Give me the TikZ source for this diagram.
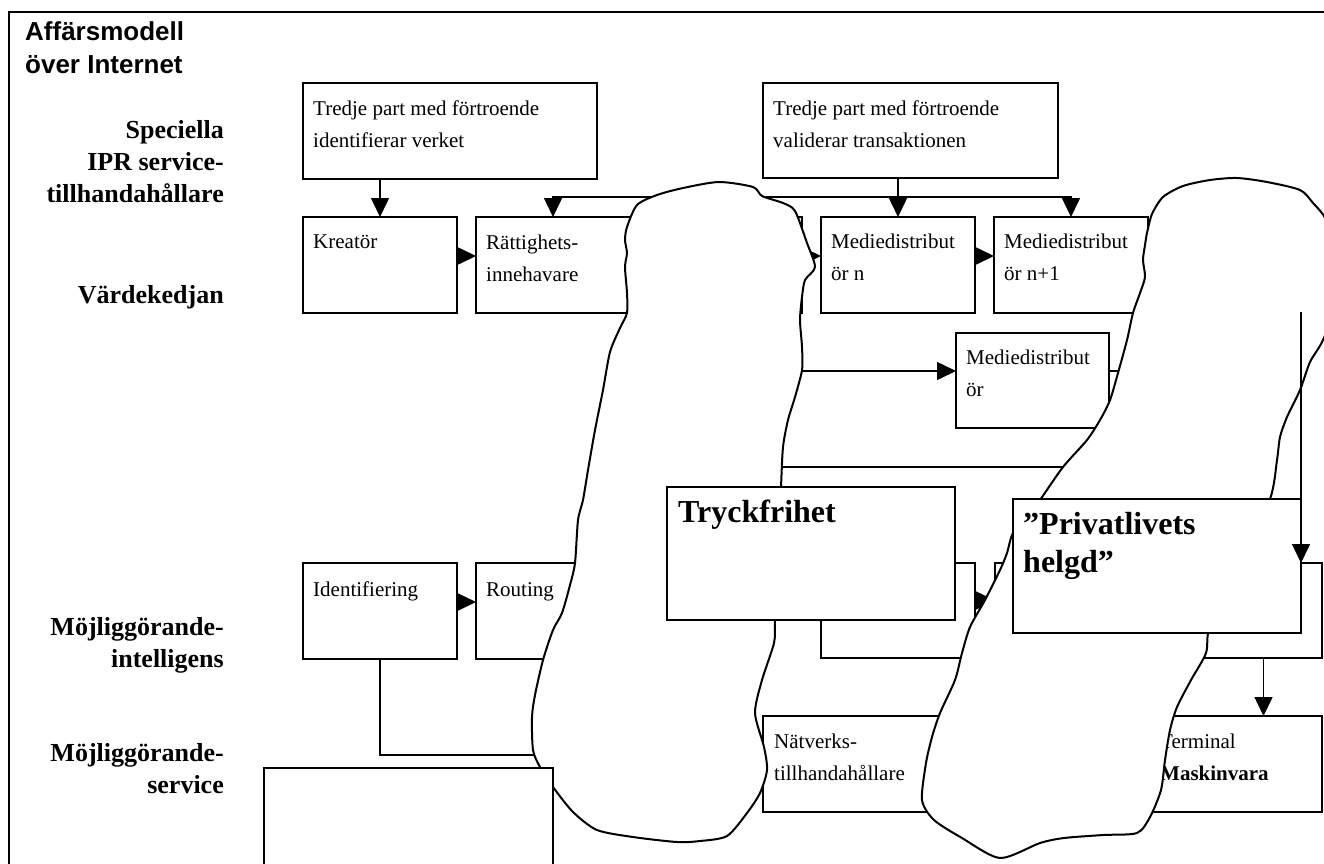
\documentclass[tikz,border=0pt]{standalone}
\usepackage{fontspec}
\setmainfont{Liberation Serif}
\setsansfont{Liberation Sans}
\usetikzlibrary{arrows.meta,calc}

\tikzset{
  ruta/.style={draw, fill=white, line width=1.5pt, inner sep=0pt, outer sep=0pt, anchor=north west,
               minimum width=154pt, minimum height=96pt},
  txt/.style={anchor=base west, inner sep=0pt, align=left, font=\fontsize{21}{32}\selectfont},
  stortxt/.style={anchor=base west, inner sep=0pt, align=left, font=\bfseries\fontsize{32}{38}\selectfont},
  niva/.style={anchor=base east, inner sep=0pt, align=right, font=\bfseries\fontsize{26}{32}\selectfont},
  pil/.style={line width=1.5pt, -{Triangle[length=19pt,width=18pt]}},
  linje/.style={line width=1.5pt},
  moln/.style={draw, fill=white, line width=2pt, line join=round},
}

\begin{document}
\begin{tikzpicture}[x=1pt,y=-1pt]
\useasboundingbox (0,0) rectangle (1324,863);
\clip (0,0) rectangle (1324,863);

% ram
\draw[line width=2.5pt] (9,900) -- (9,12) -- (1400,12);

% rubrik och nivaer (base = sista radens baslinje)
\node[anchor=base west, inner sep=0pt, align=left, font=\sffamily\bfseries\fontsize{26}{33}\selectfont]
  (rubrik) at (25,73) {Affärsmodell\\över Internet};
\node[niva] (nivaIPR) at (224,202) {Speciella\\IPR service-\\tillhandahållare};
\node[niva] (nivaVarde) at (224,303) {Värdekedjan};
\node[niva] (nivaIntell) at (224,667) {Möjliggörande-\\intelligens};
\node[niva] (nivaServ) at (224,793) {Möjliggörande-\\service};

% ladorna i kedjan
\node[ruta, minimum width=294pt] (tpIdent) at (303,83) {};
\node[txt] (tpIdentT) at ([shift={(10pt,-64pt)}]tpIdent.north west) {Tredje part med förtroende\\identifierar verket};
\node[ruta, minimum width=295pt, minimum height=95pt] (tpValid) at (763,83) {};
\node[txt] (tpValidT) at ([shift={(10pt,-64pt)}]tpValid.north west) {Tredje part med förtroende\\validerar transaktionen};

\node[ruta] (kreator) at (303,217) {};
\node[txt] (kreatorT) at ([shift={(10pt,-31pt)}]kreator.north west) {Kreatör};
\node[ruta, minimum width=158pt] (rattig) at (476,217) {};
\node[txt] (rattigT) at ([shift={(10pt,-64pt)}]rattig.north west) {Rättighets-\\innehavare};
\node[ruta] (mdDold) at (648,217) {};
\node[ruta] (mdN) at (821,217) {};
\node[txt] (mdNT) at ([shift={(10pt,-63pt)}]mdN.north west) {Mediedistribut\\ör n};
\node[ruta] (mdN1) at (994,217) {};
\node[txt] (mdN1T) at ([shift={(10pt,-63pt)}]mdN1.north west) {Mediedistribut\\ör n+1};
\node[ruta, minimum width=153pt, minimum height=95pt] (mdTre) at (956,333) {};
\node[txt] (mdTreT) at ([shift={(10pt,-63pt)}]mdTre.north west) {Mediedistribut\\ör};

\node[ruta] (ident) at (303,563) {};
\node[txt] (identT) at ([shift={(10pt,-33pt)}]ident.north west) {Identifiering};
\node[ruta] (routing) at (476,563) {};
\node[txt] (routingT) at ([shift={(10pt,-33pt)}]routing.north west) {Routing};
\node[ruta, minimum height=95pt] (dold2) at (821,563) {};
\node[ruta, minimum width=327pt, minimum height=95pt] (dold3) at (995,563) {};

\node[ruta, minimum width=185pt] (natverk) at (763,716) {};
\node[txt] (natverkT) at ([shift={(11pt,-64pt)}]natverk.north west) {Nätverks-\\tillhandahållare};
\node[ruta, minimum width=172pt] (terminal) at (1150,716) {};
\node[txt] (terminalT) at ([shift={(10pt,-64pt)}]terminal.north west) {Terminal\\\textbf{Maskinvara}};

% pilar
\coordinate (buss) at (898,197);
\draw[pil] (tpIdent.south -| kreator.north) -- (kreator.north);
\draw[pil] (tpValid.south -| mdN.north) -- (mdN.north);
\draw[pil] (buss) -| (rattig.north -| 553,0);
\draw[pil] (buss) -| (mdN1.north);
\draw[pil] ([yshift=9pt]kreator.east) -- ([yshift=9pt]rattig.west);
\draw[pil] ([yshift=9pt]mdDold.east) -- ([yshift=9pt]mdN.west);
\draw[pil] ([yshift=9pt]mdN.east) -- ([yshift=9pt]mdN1.west);
\coordinate (tillTre) at (700,371);
\draw[pil] (tillTre) -- (tillTre -| mdTre.west);
\coordinate (franTre) at (1160,371);
\draw[linje] (franTre -| mdTre.east) -- (franTre);
\coordinate (tvarA) at (700,467);
\coordinate (tvarB) at (1100,467);
\draw[linje] (tvarA) -- (tvarB);
\draw[pil] ([yshift=9pt]ident.east) -- ([yshift=9pt]routing.west);
\draw[pil] ([yshift=10pt]dold2.east) -- ([yshift=10pt]dold3.west);
\draw[pil] ([xshift=105pt]dold3.south) -- ([xshift=105pt]dold3.south |- terminal.north);
\coordinate (ner) at (560,755);
\draw[linje] (ident.south) |- (ner);

% molnen
\draw[moln] plot[smooth cycle, tension=0.45] coordinates {
  (627,227) (637,205) (657,195) (683,188) (719,182) (753,187) (762,196) (783,203) (795,211)
  (807,243) (815,267) (805,280) (802,297) (800,320) (802,347) (802,370) (795,397) (788,420)
  (783,447) (781,487) (778,560) (775,621) (774,643) (762,680) (755,713) (764,747) (767,770)
  (760,793) (747,813) (727,836) (700,841) (677,842) (633,837) (597,830) (573,812) (553,787)
  (540,767) (533,750) (532,717) (535,695) (543,660) (553,630) (562,613) (570,585) (575,563)
  (578,520) (583,500) (588,470) (595,430) (603,390) (610,352) (620,328) (627,313) (627,293)
  (625,267) (627,253) (625,240)};
\draw[moln] plot[smooth cycle, tension=0.45] coordinates {
  (1147,233) (1152,214) (1163,197) (1183,186) (1210,180) (1237,178) (1267,182) (1300,190)
  (1313,203) (1326,220) (1336,260) (1334,310) (1322,342) (1310,362) (1300,390) (1287,417)
  (1280,437) (1277,460) (1270,499) (1240,560) (1210,625) (1206,653) (1191,680) (1177,707)
  (1170,730) (1165,760) (1161,790) (1150,817) (1137,833) (1103,835) (1064,838) (1040,843)
  (1000,858) (962,838) (934,820) (922,800) (926,763) (932,737) (940,713) (955,680) (962,653)
  (970,627) (985,600) (1000,570) (1007,553) (1013,533) (1030,513) (1040,500) (1063,467)
  (1087,440) (1100,420) (1110,400) (1118,373) (1127,340) (1133,313) (1140,293) (1145,277)
  (1143,260) (1145,245)};

% ladorna ovanpa
\node[ruta, minimum width=289pt, minimum height=120pt] (storlada) at (264,768) {};
\node[ruta, minimum width=288pt, minimum height=133pt] (tryck) at (667,487) {};
\node[stortxt] (tryckT) at ([shift={(11pt,-35pt)}]tryck.north west) {Tryckfrihet};
\node[ruta, minimum width=288pt, minimum height=134pt] (privat) at (1013,499) {};
\node[stortxt] (privatT) at ([shift={(10pt,-73pt)}]privat.north west) {”Privatlivets\\helgd”};

\coordinate (ovan) at (1301,312);
\draw[pil] (ovan) -- (ovan |- dold3.north);
\end{tikzpicture}
\end{document}
